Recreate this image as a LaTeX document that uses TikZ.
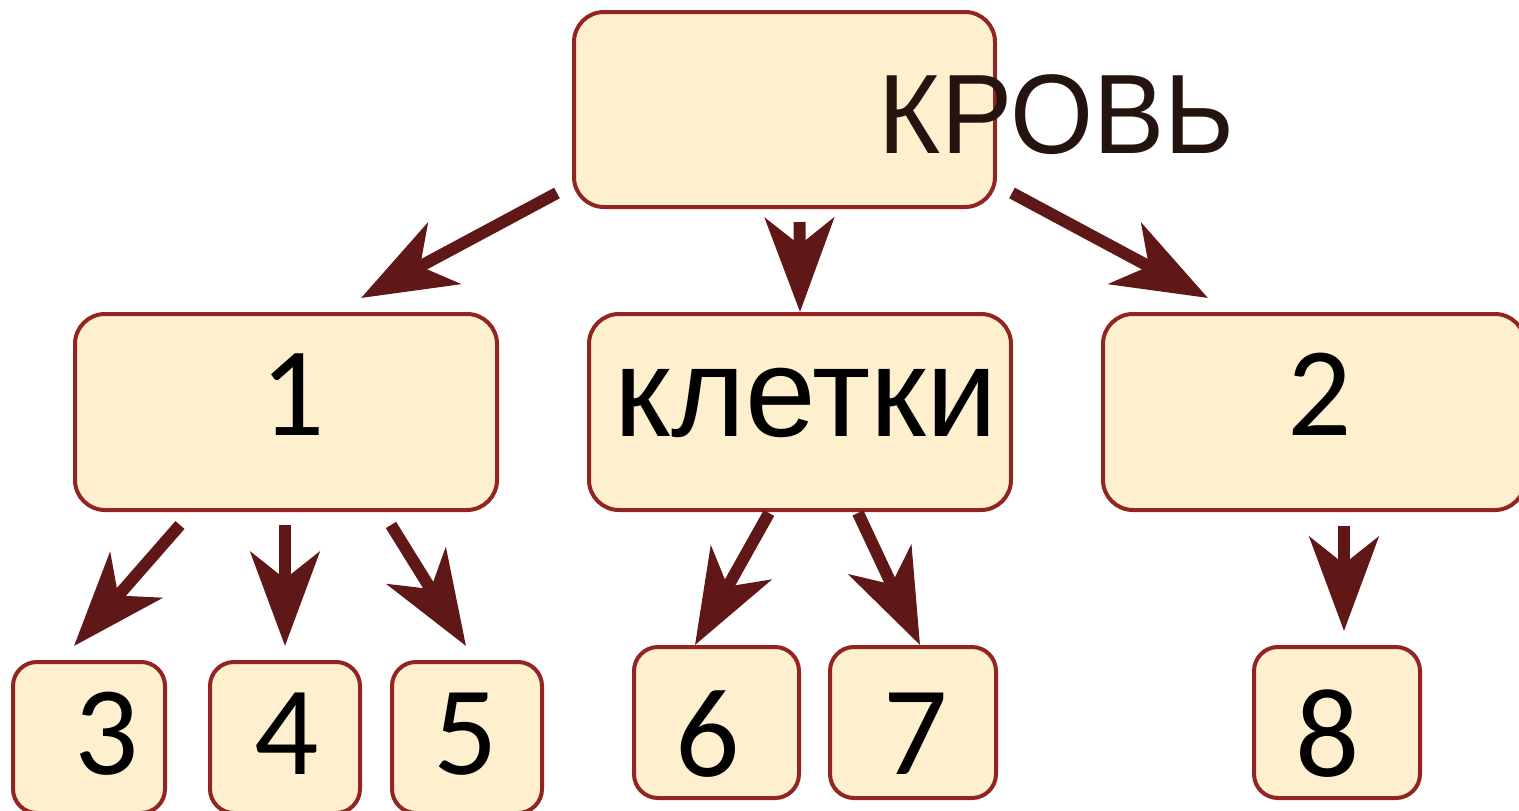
\documentclass[tikz,border=0pt]{standalone}
\usepackage{fontspec}
\setmainfont{Liberation Sans}
\newfontfamily\digitfont{Carlito}
\usetikzlibrary{arrows.meta,calc}
\definecolor{boxfill}{HTML}{FEF0CE}
\definecolor{boxline}{HTML}{922422}
\definecolor{arrcol}{HTML}{5F1717}
\definecolor{krtext}{HTML}{24130E}
\begin{document}
\begin{tikzpicture}[x=1pt,y=-1pt,
  bigbox/.style={draw=boxline,fill=boxfill,line width=4pt,rounded corners=30pt,
    minimum width=422pt,minimum height=196pt,inner sep=0pt},
  smallbox/.style={draw=boxline,fill=boxfill,line width=4pt,rounded corners=24pt,
    minimum height=151pt,inner sep=0pt},
  digit/.style={font=\digitfont\fontsize{127}{127}\selectfont,text=black,inner sep=0pt},
  word/.style={font=\fontsize{127}{127}\selectfont,text=black,inner sep=0pt},
  krword/.style={font=\fontsize{113}{113}\selectfont,text=krtext,inner sep=0pt},
  arr/.style={draw=arrcol,line width=12pt,
    -{Stealth[length=94pt,width=69pt,inset=27pt]}}]
\useasboundingbox (0,0) rectangle (1519,811);

% top box
\node[bigbox,minimum width=421pt,minimum height=195pt,
  label={[krword,xshift=272pt,yshift=-5pt]center:\scalebox{0.945}[1]{КРОВЬ}}]
  (kr) at (784.5,109.5) {};

% middle row
\node[bigbox,label={[digit,xshift=7pt,yshift=17pt]center:1}] (b1) at (286,412) {};
\node[bigbox,label={[word,xshift=6pt,yshift=9pt]center:клетки}] (kl) at (800,412) {};
\node[bigbox,label={[digit,xshift=6pt,yshift=18pt]center:2}] (b2) at (1314,412) {};

% bottom row
\node[smallbox,minimum width=152pt,label={[digit,xshift=18pt,yshift=3.5pt]center:3}] (b3) at (89,737.5) {};
\node[smallbox,minimum width=150pt,label={[digit,xshift=2pt,yshift=3.5pt]center:4}] (b4) at (285,737.5) {};
\node[smallbox,minimum width=150pt,label={[digit,xshift=-1pt,yshift=3.5pt]center:5}] (b5) at (467,737.5) {};
\node[smallbox,minimum width=165pt,label={[digit,xshift=-8.5pt,yshift=-11.5pt]center:6}] (b6) at (716.5,722.5) {};
\node[smallbox,minimum width=166pt,label={[digit,xshift=3pt,yshift=-11.5pt]center:7}] (b7) at (913,722.5) {};
\node[smallbox,minimum width=166pt,label={[digit,xshift=-9pt,yshift=-11.5pt]center:8}] (b8) at (1337,722.5) {};

% arrows
\draw[arr] ($(kr.south west)+(-15,-16)$) -- ($(b1.north)+(75,-14)$);
\draw[arr] ($(kr.south)+(15,13)$) -- ($(kl.north)+(0,0)$);
\draw[arr] ($(kr.south east)+(15,-16)$) -- ($(b2.north)+(-106,-14)$);
\draw[arr] ($(b1.south)+(-106,13)$) -- ($(b3.north)+(-15,-14)$);
\draw[arr] ($(b1.south)+(-1,13)$) -- ($(b4.north)+(0,-14)$);
\draw[arr] ($(b1.south)+(105,13)$) -- ($(b5.north)+(-1,-14)$);
\draw[arr] ($(kl.south)+(-31,1)$) -- ($(b6.north)+(-21.5,0)$);
\draw[arr] ($(kl.south)+(58,1)$) -- ($(b7.north)+(7,0)$);
\draw[arr] ($(b2.south)+(30,14)$) -- ($(b8.north)+(7,-14)$);
\end{tikzpicture}
\end{document}
